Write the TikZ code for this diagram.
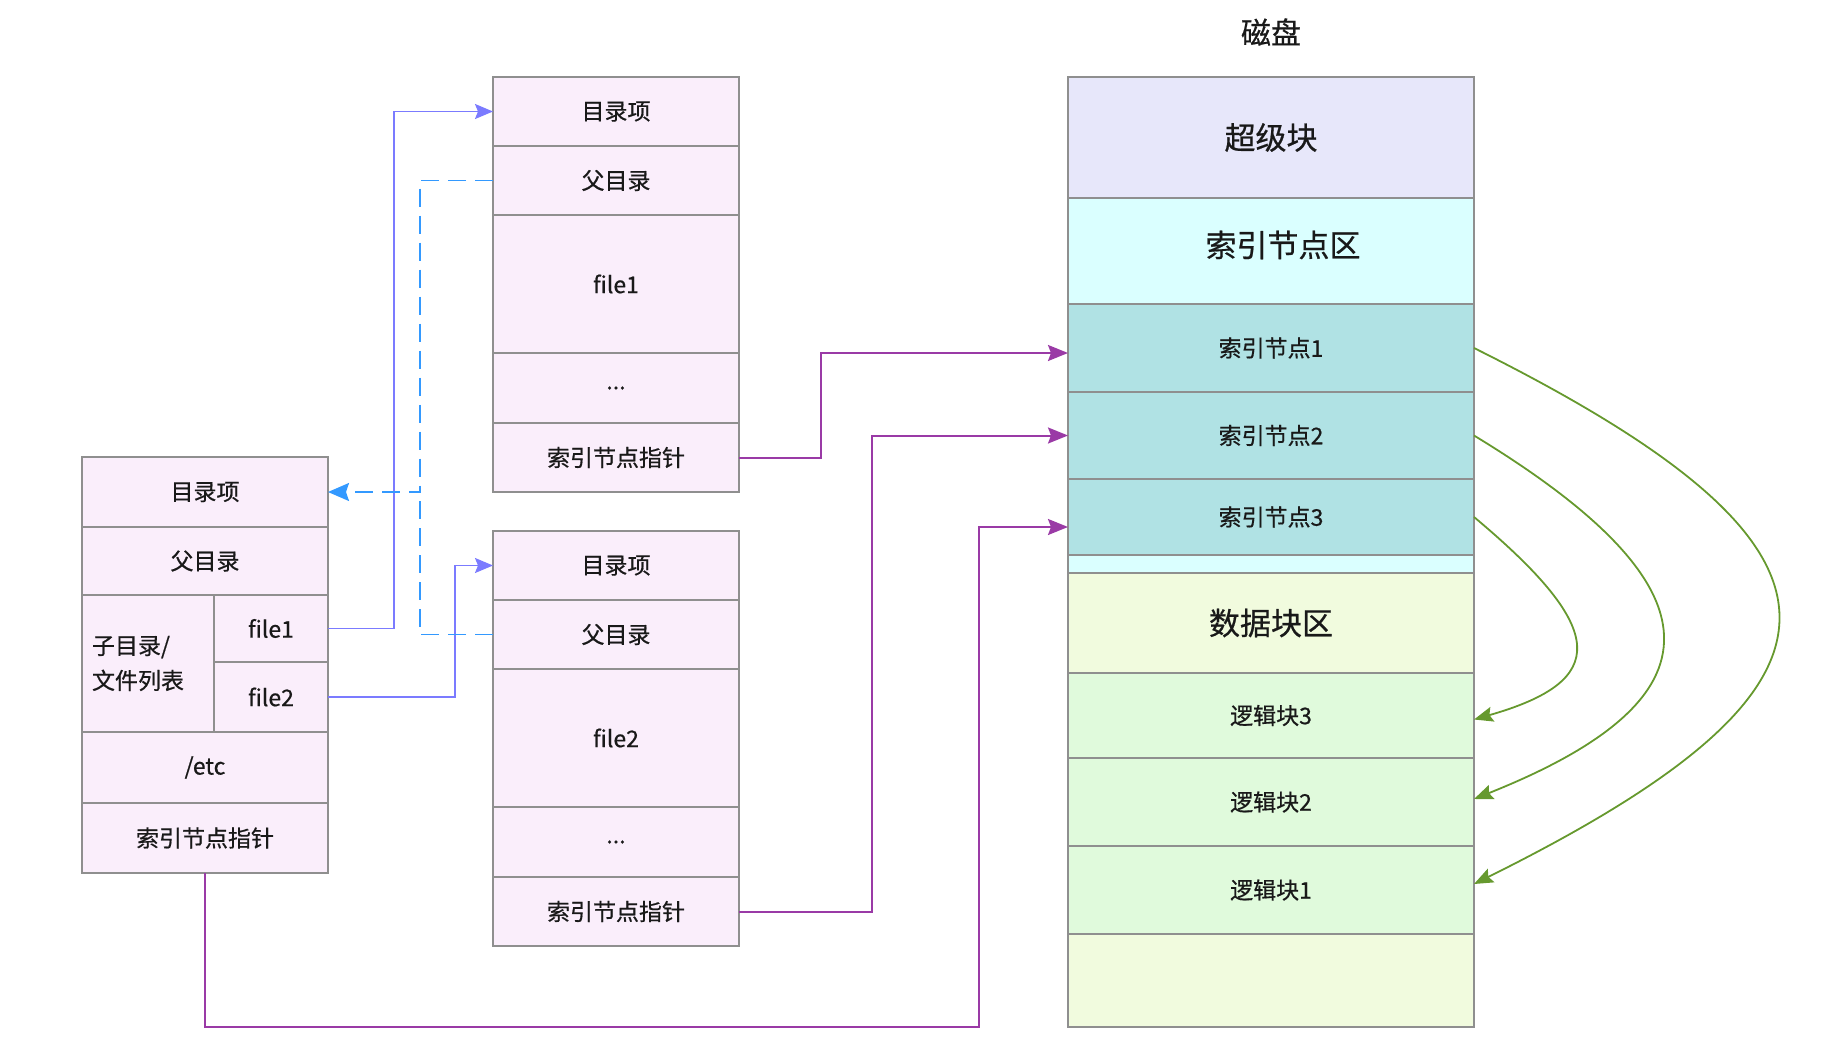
\documentclass[tikz,border=0pt]{standalone}
\usepackage{fontspec}
\setmainfont{Noto Sans CJK SC}[BoldFont={Noto Sans CJK SC}, BoldFeatures={FakeBold=0.6}]
\usetikzlibrary{arrows.meta}
\definecolor{boxgray}{HTML}{8F8F8F}
\definecolor{pinkc}{HTML}{FAEEFB}
\definecolor{lavc}{HTML}{E7E7FA}
\definecolor{cyanc}{HTML}{DAFFFF}
\definecolor{powc}{HTML}{B0E2E4}
\definecolor{yelc}{HTML}{F1FBDE}
\definecolor{grnc}{HTML}{E0FADC}
\definecolor{purp}{HTML}{9A3AA6}
\definecolor{blu}{HTML}{7B7BFF}
\definecolor{dblu}{HTML}{3399FF}
\definecolor{grn}{HTML}{66992E}
\tikzset{
  cell/.style={draw=boxgray, line width=1.6pt, inner sep=0pt, outer sep=0pt,
    anchor=north west, text=black!90, font=\bfseries\fontsize{23}{35}\selectfont},
  big/.style={font=\bfseries\fontsize{31}{36}\selectfont},
  pl/.style={draw=purp, line width=2pt, -{Stealth[length=20pt,width=16pt,inset=3pt]}},
  bl/.style={draw=blu, line width=1.8pt, -{Stealth[length=18pt,width=15pt,inset=3pt]}},
  dl/.style={draw=dblu, line width=1.8pt, dash pattern=on 18pt off 9pt},
  gl/.style={draw=grn, line width=1.8pt, -{Stealth[length=19pt,width=15pt,inset=3pt]}},
}
\begin{document}
\begin{tikzpicture}[x=1pt,y=-1pt]
\useasboundingbox (0,0) rectangle (1826,1062);
% left directory box
\node[cell,fill=pinkc,minimum width=246pt,minimum height=70pt] (Le) at (82,457) {目录项};
\node[cell,fill=pinkc,minimum width=246pt,minimum height=68pt] (Lp) at (82,527) {父目录};
\node[cell,fill=pinkc,minimum width=132pt,minimum height=137pt,text width=112pt,align=left] (Ll) at (82,595) {子目录/\\文件列表};
\node[cell,fill=pinkc,minimum width=114pt,minimum height=67pt] (Lf1) at (214,595) {file1};
\node[cell,fill=pinkc,minimum width=114pt,minimum height=70pt] (Lf2) at (214,662) {file2};
\node[cell,fill=pinkc,minimum width=246pt,minimum height=71pt] (Lc) at (82,732) {/etc};
\node[cell,fill=pinkc,minimum width=246pt,minimum height=70pt] (Lptr) at (82,803) {索引节点指针};
% box A
\node[cell,fill=pinkc,minimum width=246pt,minimum height=69pt] (Ae) at (493,77) {目录项};
\node[cell,fill=pinkc,minimum width=246pt,minimum height=69pt] (Ap) at (493,146) {父目录};
\node[cell,fill=pinkc,minimum width=246pt,minimum height=138pt] (Af) at (493,215) {file1};
\node[cell,fill=pinkc,minimum width=246pt,minimum height=70pt] (Ad) at (493,353) {...};
\node[cell,fill=pinkc,minimum width=246pt,minimum height=69pt] (Aptr) at (493,423) {索引节点指针};
% box B
\node[cell,fill=pinkc,minimum width=246pt,minimum height=69pt] (Be) at (493,531) {目录项};
\node[cell,fill=pinkc,minimum width=246pt,minimum height=69pt] (Bp) at (493,600) {父目录};
\node[cell,fill=pinkc,minimum width=246pt,minimum height=138pt] (Bf) at (493,669) {file2};
\node[cell,fill=pinkc,minimum width=246pt,minimum height=70pt] (Bd) at (493,807) {...};
\node[cell,fill=pinkc,minimum width=246pt,minimum height=69pt] (Bptr) at (493,877) {索引节点指针};
% disk
\node[text=black!90,font=\bfseries\fontsize{30}{34}\selectfont] (title) at (1271,32) {磁盘};
\node[cell,big,fill=lavc,minimum width=406pt,minimum height=121pt] (SB) at (1068,77) {超级块};
\node[cell,fill=cyanc,minimum width=406pt,minimum height=106pt] (IA) at (1068,198) {};
\node[big,text=black!90] (IAt) at (1283,245) {索引节点区};
\node[cell,fill=powc,minimum width=406pt,minimum height=88pt] (I1) at (1068,304) {索引节点1};
\node[cell,fill=powc,minimum width=406pt,minimum height=87pt] (I2) at (1068,392) {索引节点2};
\node[cell,fill=powc,minimum width=406pt,minimum height=76pt] (I3) at (1068,479) {索引节点3};
\node[cell,fill=cyanc,minimum width=406pt,minimum height=18pt] (ST) at (1068,555) {};
\node[cell,big,fill=yelc,minimum width=406pt,minimum height=100pt] (DA) at (1068,573) {数据块区};
\node[cell,fill=grnc,minimum width=406pt,minimum height=85pt] (LB3) at (1068,673) {逻辑块3};
\node[cell,fill=grnc,minimum width=406pt,minimum height=88pt] (LB2) at (1068,758) {逻辑块2};
\node[cell,fill=grnc,minimum width=406pt,minimum height=88pt] (LB1) at (1068,846) {逻辑块1};
\node[cell,fill=yelc,minimum width=406pt,minimum height=93pt] (DE) at (1068,934) {};
% blue solid links
\draw[bl] (Lf1.east) -- ++(66,0) |- (Ae.west);
\draw[bl] (Lf2.east) -- ++(127,0) |- (Be.west);
% dashed parent links
\coordinate (jn) at (420,492);
\draw[dl,-{Stealth[length=21pt,width=18pt,inset=3pt]}] (Ap.west) -| (jn) -- (Le.east);
\draw[dl] (Bp.west) -| (jn);
% purple inode pointers
\draw[pl] (Aptr.east) -- ++(82,0) |- ([yshift=-5pt]I1.west);
\draw[pl] (Bptr.east) -- ++(133,0) |- (I2.west);
\coordinate (pb) at (979,1027);
\draw[pl] (Lptr.south) |- (pb) |- ([yshift=-10pt]I3.west);
% green block links
\draw[gl] (I1.east) .. controls (1879,550) and (1879,683) .. ([yshift=6pt]LB1.east);
\draw[gl] (I2.east) .. controls (1725,588) and (1725,699) .. ([yshift=3pt]LB2.east);
\draw[gl] (I3.east) .. controls (1609,630) and (1609,681) .. ([yshift=-4pt]LB3.east);
\end{tikzpicture}
\end{document}
